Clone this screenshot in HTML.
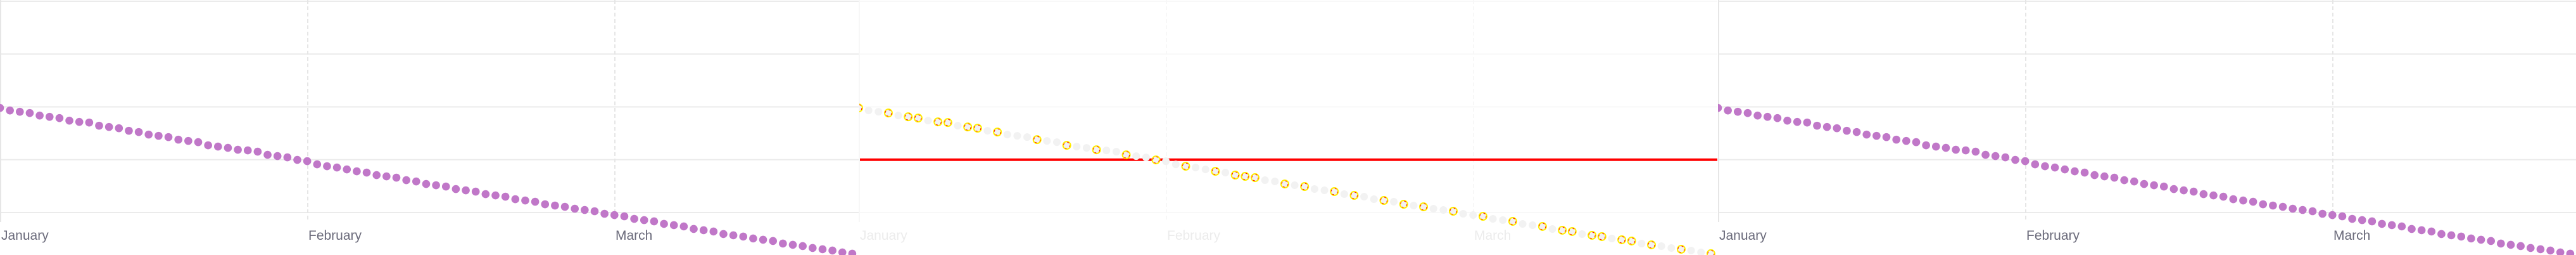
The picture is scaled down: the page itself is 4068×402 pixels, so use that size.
<!DOCTYPE html>
<html><head><meta charset="utf-8"><style>
html,body{margin:0;padding:0;background:#fff;width:4068px;height:402px;overflow:hidden}
svg{display:block}
text{font-family:"Liberation Sans",sans-serif;font-size:21px}
</style></head><body>
<svg id="chart" width="4068" height="402" viewBox="0 0 4068 402" xmlns="http://www.w3.org/2000/svg"></svg>
<script>
const months = ["January","February","March"];
const gridValues = [100,75,50,25,0];
const values = [49.5,48.3,47.7,47.1,45.9,45.3,44.7,43.5,42.9,42.6,41.1,40.5,39.9,38.7,38.1,36.9,36.3,35.7,34.5,33.9,33.3,31.8,31.2,30.6,29.7,29.4,28.8,27.3,26.7,26.1,24.9,24.3,22.8,21.9,21.3,20.4,19.5,18.9,17.7,17.1,16.5,15.3,14.7,
13.5,12.9,12.3,11.1,10.5,9.9,8.7,8.1,7.5,6.3,5.7,5.1,3.9,3.3,2.7,1.8,1.2,0.6,-0.6,-1.2,-1.8,-3.0,-3.6,-4.2,-5.4,-6.0,-6.6,-7.8,-8.4,-9.0,-10.2,-10.8,-11.4,-12.3,-12.9,-13.5,-14.7,-15.3,-15.9,-16.8,-17.4,-18.0,-18.9,-19.5];
const highlighted = [0,3,5,6,8,9,11,12,14,18,21,24,27,30,33,36,38,39,40,43,45,48,50,53,55,57,60,63,66,69,71,72,74,75,77,78,80,83,86];
const thresholdValue = 25;

const NS="http://www.w3.org/2000/svg";
const svg=document.getElementById('chart');
const PW=1356, DAYPX=15.65, MONTHPX=485;
function yScale(v){return 335-v*3.33;}
function xScale(i){return i*DAYPX;}
function mk(tag,attrs,parent){const e=document.createElementNS(NS,tag);for(const k in attrs)e.setAttribute(k,attrs[k]);(parent||svg).appendChild(e);return e;}

const defs=mk('defs',{});
[0,1,2].forEach(p=>{const c=mk('clipPath',{id:'clip'+p},defs);mk('rect',{x:p*PW+(p===0?0:1),y:0,width:PW,height:402},c);});

function panel(p,faint){
  const ox=p*PW+(p===2?1:0);
  const g=mk('g',{});
  
  
  const gc=faint?'#f8f8f8':'#ebebeb';
  gridValues.forEach(v=>{
    const l=mk('line',{x1:ox,x2:ox+PW,y1:Math.max(2,yScale(v)),y2:Math.max(2,yScale(v)),stroke:gc,'stroke-width':2},g);
    
    
  });
  months.forEach((m,i)=>{
    const x=ox+i*MONTHPX+1;
    const l=mk('line',{x1:x,x2:x,y1:0,y2:350,stroke:faint?'#f7f7f7':'#e6e6e6','stroke-width':2,'stroke-dasharray':i===0?'none':'6 4'},g);
    
    
    const t=mk('text',{x:x+1,y:378,fill:faint?'#ececec':'#6b6b7b'},g);
    t.textContent=m;
    
    
  });
  if(faint){
    const r=mk('line',{x1:ox+2,x2:ox+PW,y1:yScale(thresholdValue),y2:yScale(thresholdValue),stroke:'#ff0000','stroke-width':4},g);
    
    
  }
  const dg=mk('g',{'clip-path':'url(#clip'+p+')'},g);
  values.forEach((v,i)=>{
    const cx=ox+xScale(i), cy=yScale(v);
    if(faint){
      const h=highlighted.includes(i);
      const c=mk('circle',{cx:cx,cy:cy,r:6,fill:'#f2f2f2',stroke:h?'#ffee00':'none','stroke-width':2},dg);
      
      
      if(h){mk('circle',{cx:cx,cy:cy,r:5,fill:'none',stroke:'#ff0000','stroke-width':1,'stroke-dasharray':'3 5'},dg);}
    }else{
      const c=mk('circle',{cx:cx,cy:cy,r:6.3,fill:'#c077c8'},dg);
      
      
    }
  });
}
panel(0,false);panel(1,true);panel(2,false);
</script>
</body></html>
